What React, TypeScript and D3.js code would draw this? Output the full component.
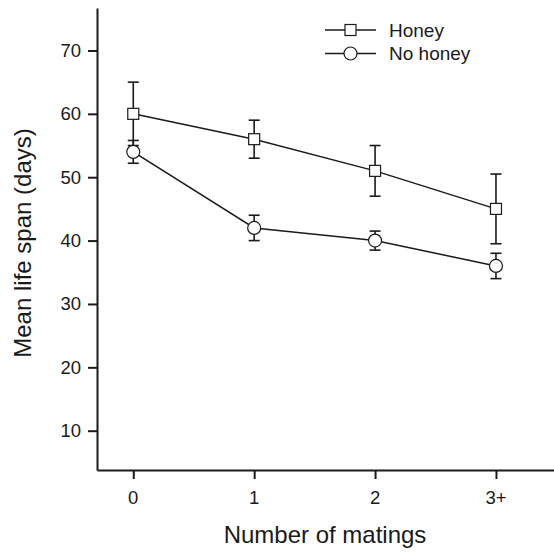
import React, { useEffect, useRef } from 'react';
import * as d3 from 'd3';

const categories = ['0', '1', '2', '3+'];
const honeyMean = [60, 56, 51, 45];
const honeyErr = [5, 3, 4, 5.5];
const noHoneyMean = [54, 42, 40, 36];
const noHoneyErr = [1.8, 2, 1.5, 2];
const yTicks = [10, 20, 30, 40, 50, 60, 70];

const INK = '#1a1a1a';
const FONT = '"Liberation Sans", Arial, Helvetica, sans-serif';

const App = () => {
  const svgRef = useRef<SVGSVGElement>(null);

  useEffect(() => {
    const svg = d3.select(svgRef.current);
    svg.selectAll('*').remove();

    const width = 554;
    const height = 552;
    const left = 97;
    const bottom = 470;

    svg.attr('width', width).attr('height', height);

    const x = d3.scaleLinear().domain([-0.3, 3.48]).range([left, 554]);
    const y = d3.scaleLinear().domain([3.8, 76.7]).range([bottom, 8]);

    // axes (lines and ticks from d3, labels drawn below)
    const yAxis = svg.append('g')
      .attr('transform', `translate(${left},0)`)
      .call(d3.axisLeft(y).tickValues(yTicks).tickSize(9).tickFormat(() => '').tickSizeOuter(0));
    yAxis.select('.domain').attr('stroke', INK).attr('stroke-width', 2);
    yAxis.selectAll('.tick line').attr('stroke', INK).attr('stroke-width', 2);

    const xAxis = svg.append('g')
      .attr('transform', `translate(0,${bottom})`)
      .call(d3.axisBottom(x)
        .tickValues(categories.map((_, i) => i))
        .tickFormat(() => '')
        .tickSize(9)
        .tickSizeOuter(0));
    xAxis.select('.domain').attr('stroke', INK).attr('stroke-width', 2);
    xAxis.selectAll('.tick line').attr('stroke', INK).attr('stroke-width', 2);

    svg.append('g')
      .selectAll('text')
      .data(yTicks)
      .enter()
      .append('text')
      .attr('x', left - 16)
      .attr('y', (d) => y(d) + 6.5)
      .attr('text-anchor', 'end')
      .attr('fill', INK)
      .style('font-family', FONT)
      .style('font-size', '18.5px')
      .text((d) => d);

    svg.append('g')
      .selectAll('text')
      .data(categories)
      .enter()
      .append('text')
      .attr('x', (_, i) => x(i))
      .attr('y', bottom + 34)
      .attr('text-anchor', 'middle')
      .attr('fill', INK)
      .style('font-family', FONT)
      .style('font-size', '18.5px')
      .text((d) => d);

    // titles
    svg.append('text')
      .attr('x', 325)
      .attr('y', 543)
      .attr('text-anchor', 'middle')
      .attr('fill', INK)
      .style('font-family', FONT)
      .style('font-size', '24px')
      .text('Number of matings');

    svg.append('text')
      .attr('transform', 'translate(31,243) rotate(-90)')
      .attr('text-anchor', 'middle')
      .attr('fill', INK)
      .style('font-family', FONT)
      .style('font-size', '24px')
      .text('Mean life span (days)');

    const series = [
      { name: 'Honey', mean: honeyMean, err: honeyErr, shape: 'square' },
      { name: 'No honey', mean: noHoneyMean, err: noHoneyErr, shape: 'circle' },
    ];

    const line = d3.line<number>()
      .x((_, i) => x(i))
      .y((d) => y(d));

    const drawMarker = (g: any, shape: string, cx: number, cy: number) => {
      if (shape === 'square') {
        g.append('rect')
          .attr('x', cx - 5.5)
          .attr('y', cy - 5.5)
          .attr('width', 11)
          .attr('height', 11)
          .attr('fill', '#fff')
          .attr('stroke', INK)
          .attr('stroke-width', 1.2);
      } else {
        g.append('circle')
          .attr('cx', cx)
          .attr('cy', cy)
          .attr('r', 6.5)
          .attr('fill', '#fff')
          .attr('stroke', INK)
          .attr('stroke-width', 1.2);
      }
    };

    // lines
    series.forEach((s) => {
      svg.append('path')
        .datum(s.mean)
        .attr('d', line)
        .attr('fill', 'none')
        .attr('stroke', INK)
        .attr('stroke-width', 1.5);
    });

    // error bars
    series.forEach((s) => {
      const g = svg.append('g').attr('stroke', INK).attr('stroke-width', 1.6);
      s.mean.forEach((m, i) => {
        const cx = x(i);
        const top = y(m + s.err[i]);
        const bot = y(m - s.err[i]);
        g.append('line').attr('x1', cx).attr('x2', cx).attr('y1', top).attr('y2', bot);
        g.append('line').attr('x1', cx - 5.5).attr('x2', cx + 5.5).attr('y1', top).attr('y2', top);
        g.append('line').attr('x1', cx - 5.5).attr('x2', cx + 5.5).attr('y1', bot).attr('y2', bot);
      });
    });

    // markers
    series.forEach((s) => {
      const g = svg.append('g');
      s.mean.forEach((m, i) => drawMarker(g, s.shape, x(i), y(m)));
    });

    // legend
    const legend = svg.append('g');
    series.forEach((s, i) => {
      const ly = 30 + i * 23.5;
      legend.append('line')
        .attr('x1', 325).attr('x2', 376)
        .attr('y1', ly).attr('y2', ly)
        .attr('stroke', INK)
        .attr('stroke-width', 1.5);
      drawMarker(legend, s.shape, 350.5, ly);
      legend.append('text')
        .attr('x', 389)
        .attr('y', ly + 6.5)
        .attr('fill', INK)
        .style('font-family', FONT)
        .style('font-size', '19px')
        .text(s.name);
    });
  }, []);

  return (
    <div style={{ position: 'absolute', left: 0, top: 0, background: '#fff' }}>
      <svg ref={svgRef}></svg>
    </div>
  );
};

export default App;
